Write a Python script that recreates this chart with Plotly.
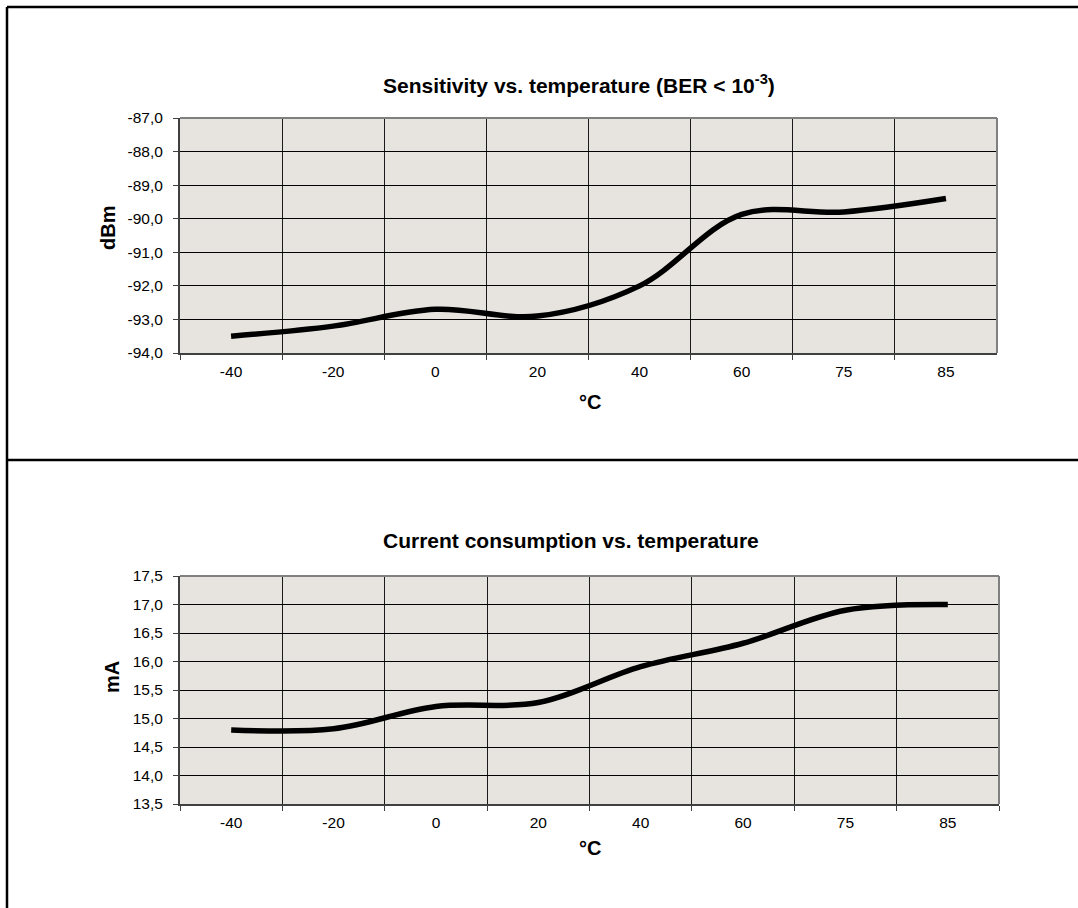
import plotly.graph_objects as go

# ---------------- data ----------------
temperatures = ["-40", "-20", "0", "20", "40", "60", "75", "85"]
sensitivity_dbm = [-93.5, -93.2, -92.7, -92.9, -92.0, -89.87, -89.8, -89.4]
current_ma = [14.8, 14.82, 15.21, 15.28, 15.91, 16.32, 16.9, 17.0]

sens_ticks = [-94, -93, -92, -91, -90, -89, -88, -87]
sens_ticktext = ["-94,0", "-93,0", "-92,0", "-91,0", "-90,0", "-89,0", "-88,0", "-87,0"]
curr_ticks = [13.5, 14.0, 14.5, 15.0, 15.5, 16.0, 16.5, 17.0, 17.5]
curr_ticktext = ["13,5", "14,0", "14,5", "15,0", "15,5", "16,0", "16,5", "17,0", "17,5"]

title_top = "<b>Sensitivity vs. temperature (BER &lt; 10<sup>-3</sup>)</b>"
title_bottom = "<b>Current consumption vs. temperature</b>"
x_title = "<b>°C</b>"
y_title_top = "<b>dBm</b>"
y_title_bottom = "<b>mA</b>"

# ---------------- layout helpers ----------------
W, H = 1078, 908
FONT = "Liberation Sans, Arial, sans-serif"


def px(x):
    return x / W


def py(y):
    return 1 - y / H


fig = go.Figure()

fig.add_trace(go.Scatter(
    x=temperatures, y=sensitivity_dbm, mode="lines",
    line=dict(color="black", width=5.5, shape="spline", smoothing=1.0),
    xaxis="x", yaxis="y", showlegend=False, hoverinfo="skip"))

fig.add_trace(go.Scatter(
    x=temperatures, y=current_ma, mode="lines",
    line=dict(color="black", width=5.5, shape="spline", smoothing=1.0),
    xaxis="x2", yaxis="y2", showlegend=False, hoverinfo="skip"))

common_x = dict(
    type="category", tickson="boundaries", range=[-0.5, 7.5],
    ticks="outside", ticklen=5, tickcolor="#404040", tickwidth=1,
    showgrid=True, gridcolor="#1a1a1a", gridwidth=1,
    showline=True, linecolor="#404040", linewidth=2,
    tickfont=dict(family=FONT, size=15.5, color="black"),
    zeroline=False, fixedrange=True, automargin=False, ticklabelstandoff=3,
)
common_y = dict(
    ticks="outside", ticklen=5, tickcolor="#404040", tickwidth=1,
    showgrid=True, gridcolor="black", gridwidth=1,
    showline=True, linecolor="#404040", linewidth=2,
    tickfont=dict(family=FONT, size=15.5, color="black"),
    zeroline=False, fixedrange=True, ticklabelstandoff=7, automargin=False,
)

fig.update_layout(
    template="none",
    width=W, height=H,
    margin=dict(l=0, r=0, t=0, b=0, pad=0, autoexpand=False),
    paper_bgcolor="white",
    plot_bgcolor="#E7E4E0",
    xaxis=dict(common_x, domain=[px(180), px(997)], anchor="y"),
    yaxis=dict(common_y, domain=[py(353), py(118)], anchor="x",
               range=[-94, -87], tickvals=sens_ticks, ticktext=sens_ticktext),
    xaxis2=dict(common_x, domain=[px(180), px(999)], anchor="y2"),
    yaxis2=dict(common_y, domain=[py(804), py(576)], anchor="x2",
                range=[13.5, 17.5], tickvals=curr_ticks, ticktext=curr_ticktext),
)

annots = [
    dict(text=title_top, x=px(579), y=py(84), size=21),
    dict(text=title_bottom, x=px(571), y=py(540), size=21),
    dict(text=x_title, x=px(590), y=py(402), size=20),
    dict(text=x_title, x=px(590), y=py(848), size=20),
]
for a in annots:
    fig.add_annotation(text=a["text"], x=a["x"], y=a["y"], xref="paper", yref="paper",
                       xanchor="center", yanchor="middle", showarrow=False,
                       font=dict(family=FONT, size=a["size"], color="black"))

for txt, xx, yy in [(y_title_top, 108, 228), (y_title_bottom, 112, 677)]:
    fig.add_annotation(text=txt, x=px(xx), y=py(yy), xref="paper", yref="paper",
                       xanchor="center", yanchor="middle", showarrow=False, textangle=-90,
                       font=dict(family=FONT, size=20, color="black"))

# plot-area top/right borders (grey)
for (x0, y0, x1, y1) in [(180, 118, 997, 118), (997, 118, 997, 353),
                         (180, 576, 999, 576), (999, 576, 999, 804)]:
    fig.add_shape(type="line", xref="paper", yref="paper",
                  x0=px(x0), y0=py(y0), x1=px(x1), y1=py(y1),
                  line=dict(color="#808080", width=2), layer="above")

# outer frame lines
for (x0, y0, x1, y1) in [(7, 7, 1078, 7), (7, 7, 7, 908), (7, 460, 1078, 460)]:
    fig.add_shape(type="line", xref="paper", yref="paper",
                  x0=px(x0), y0=py(y0), x1=px(x1), y1=py(y1),
                  line=dict(color="black", width=2.5), layer="above")

fig.write_html("out.html", config={"displayModeBar": False},
               post_script="document.body.style.margin='0';")
